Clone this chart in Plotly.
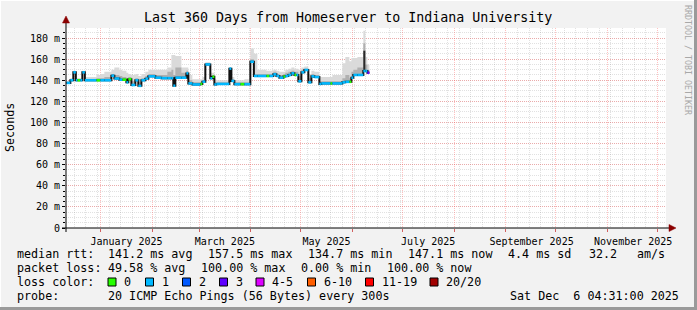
import plotly.graph_objects as go

# ---------------- data ----------------
dates = [
    "2024-12-11 10:00", "2024-12-13 19:00", "2024-12-15 14:00", "2024-12-17 02:00", "2024-12-18 00:00",
    "2024-12-19 19:00", "2024-12-21 00:00", "2024-12-22 12:00", "2024-12-29 10:00", "2024-12-31 19:00",
    "2025-01-03 05:00", "2025-01-07 10:00", "2025-01-09 05:00", "2025-01-12 05:00", "2025-01-14 00:00",
    "2025-01-16 10:00", "2025-01-17 14:00", "2025-01-19 10:00", "2025-01-21 19:00", "2025-01-23 14:00",
    "2025-01-25 10:00", "2025-01-27 19:00", "2025-01-29 14:00", "2025-02-02 19:00", "2025-02-06 10:00",
    "2025-02-10 00:00", "2025-02-12 10:00", "2025-02-13 14:00", "2025-02-14 19:00", "2025-02-18 10:00",
    "2025-02-21 10:00", "2025-02-22 14:00", "2025-02-25 00:00", "2025-03-01 19:00", "2025-03-03 00:00",
    "2025-03-04 19:00", "2025-03-07 19:00", "2025-03-09 00:00", "2025-03-10 05:00", "2025-03-11 10:00",
    "2025-03-19 05:00", "2025-03-20 10:00", "2025-03-22 05:00", "2025-03-25 19:00", "2025-03-28 05:00",
    "2025-03-31 19:00", "2025-04-02 22:00", "2025-04-05 00:00", "2025-04-10 10:00", "2025-04-12 05:00",
    "2025-04-14 14:00", "2025-04-16 10:00", "2025-04-18 05:00", "2025-04-20 14:00", "2025-04-21 19:00",
    "2025-04-23 14:00", "2025-04-25 10:00", "2025-04-27 05:00", "2025-04-28 10:00", "2025-04-29 14:00",
    "2025-05-01 10:00", "2025-05-03 05:00", "2025-05-05 14:00", "2025-05-07 10:00", "2025-05-09 05:00",
    "2025-05-12 05:00", "2025-05-13 10:00", "2025-05-18 19:00", "2025-05-20 00:00", "2025-05-26 00:00",
    "2025-05-27 19:00", "2025-05-30 05:00", "2025-05-31 10:00", "2025-06-01 14:00", "2025-06-04 00:00",
    "2025-06-07 14:00", "2025-06-08 19:00", "2025-06-10 00:00", "2025-06-11 05:00",
]

median = [
    137.5, 140.0, 147.5, 140.0, 140.0,
    140.0, 147.5, 140.0, 140.0, 140.0,
    140.0, 144.3, 141.6, 140.5, 140.5,
    138.0, 141.0, 135.5, 140.0, 134.7,
    140.0, 141.5, 143.7, 142.4, 142.0,
    142.0, 142.0, 134.8, 142.4, 142.4,
    146.5, 137.0, 136.0, 136.5, 138.6,
    155.0, 141.8, 143.3, 136.0, 136.5,
    151.0, 139.3, 136.3, 136.3, 136.3,
    157.5, 144.0, 144.0, 144.0, 144.0,
    145.6, 144.0, 142.4, 143.5, 144.0,
    145.0, 146.6, 145.0, 145.0, 139.0,
    147.5, 149.7, 138.0, 143.7, 143.0,
    136.5, 137.0, 137.0, 137.0, 138.0,
    138.5, 138.5, 142.4, 145.0, 145.0,
    148.7, 148.7, 147.1, 147.1,
]

loss = [
    1, 1, 1, 1, 0,
    1, 1, 1, 0, 1,
    1, 1, 1, 1, 0,
    1, 0, 1, 1, 1,
    1, 1, 1, 1, 1,
    1, 1, 1, 1, 1,
    1, 1, 1, 0, 1,
    1, 1, 0, 1, 1,
    1, 1, 1, 0, 1,
    1, 1, 1, 0, 1,
    1, 1, 1, 0, 1,
    1, 1, 0, 1, 1,
    1, 1, 1, 1, 1,
    1, 1, 0, 1, 1,
    1, 0, 1, 1, 1,
    1, 1, 3, 3,
]

smoke_dark = [
    137.5, 140.0, 147.5, 140.0, 140.0,
    140.0, 147.5, 140.0, 140.0, 140.0,
    140.0, 144.3, 141.6, 140.5, 140.5,
    138.0, 141.0, 135.5, 140.0, 134.7,
    140.0, 141.5, 143.7, 142.4, 142.0,
    142.0, 142.0, 134.8, 142.4, 142.4,
    146.5, 137.0, 136.0, 136.5, 138.6,
    155.0, 141.8, 143.3, 136.0, 136.5,
    151.0, 139.3, 136.3, 136.3, 136.3,
    157.5, 144.0, 144.0, 144.0, 144.0,
    145.6, 144.0, 142.4, 143.5, 144.0,
    145.0, 146.6, 145.0, 145.0, 139.0,
    147.5, 149.7, 138.0, 143.7, 143.0,
    136.5, 137.0, 137.0, 137.0, 138.0,
    138.5, 138.5, 142.4, 145.0, 145.0,
    168.0, 148.7, 147.1, 147.1,
]

smoke_mid = [
    138.5, 141, 148, 141, 141,
    141, 148, 141, 142, 142,
    143, 146, 145, 144, 143,
    142, 143, 139, 142, 138,
    142, 144, 146, 145, 145,
    148, 150, 145, 152, 147,
    149, 140, 138, 138, 140,
    156, 144, 145, 138, 138,
    151.5, 141, 138, 138, 138,
    160, 146, 146, 146, 146,
    148, 146, 145, 146, 147,
    148, 149, 148, 148, 144,
    150, 151, 142, 146, 145,
    139, 139, 139, 139, 142,
    145, 142, 148, 150, 152,
    175, 155, 150, 150,
]

smoke_light = [
    139, 142, 149, 142, 142,
    142, 149, 143, 145, 146,
    148, 150, 152, 150, 149,
    147, 146, 145, 146, 144,
    146, 148, 150, 150, 150,
    152, 164, 164, 163, 152,
    152, 145, 141, 141, 143,
    157, 147, 147, 141, 140,
    152, 143, 140, 140, 141,
    170, 165, 150, 149, 149,
    150, 149, 148, 148, 150,
    151, 152, 151, 151, 150,
    152, 153, 146, 149, 148,
    143, 143, 143, 145, 156,
    162, 158, 161, 161, 162,
    187, 162, 155, 155,
]

loss_line_colors = {0: "#26ff00", 1: "#00b8ff", 2: "#0059ff", 3: "#5e00ff"}
legend_labels = ["0", "1", "2", "3", "4-5", "6-10", "11-19", "20/20"]
legend_colors = ["#26ff00", "#00b8ff", "#0059ff", "#5e00ff", "#dd00ff", "#ff5e00", "#ff0000", "#a10000"]

y_tickvals = [0, 20, 40, 60, 80, 100, 120, 140, 160, 180]
y_ticktext = ["0", "20 m", "40 m", "60 m", "80 m", "100 m", "120 m", "140 m", "160 m", "180 m"]

title_text = "Last 360 Days from Homeserver to Indiana University"
rtt_items = ["median rtt:", "141.2 ms avg", "157.5 ms max", "134.7 ms min", "147.1 ms now",
             "4.4 ms sd", "32.2", "am/s"]
loss_items = ["packet loss:", "49.58 % avg", "100.00 % max", "0.00 % min", "100.00 % now"]
probe_text = "20 ICMP Echo Pings (56 Bytes) every 300s"
stamp_text = "Sat Dec \u00a06 04:31:00 2025"

x_range = ["2024-12-11 04:31", "2025-12-06 04:31"]

# ---------------- layout geometry (pixels) ----------------
W, H = 697, 310
PL, PR, PT, PB = 66, 666, 28, 228
FONT = "DejaVu Sans Mono"


def fx(x):
    return (x - PL) / (PR - PL)


def fy(y):
    return (PB - y) / (PB - PT)


fig = go.Figure()


def band(top, color):
    fig.add_trace(go.Scatter(x=dates, y=median, mode="lines",
                             line=dict(width=0, shape="hv"), hoverinfo="skip", showlegend=False))
    fig.add_trace(go.Scatter(x=dates, y=top, mode="lines",
                             line=dict(width=0, shape="hv"), fill="tonexty", fillcolor=color,
                             hoverinfo="skip", showlegend=False))


band(smoke_light, "#dadada")
band(smoke_mid, "#b0b0b0")
band(smoke_dark, "#2a2a2a")

# median line: black step line (verticals remain black)
fig.add_trace(go.Scatter(x=dates, y=median, mode="lines",
                         line=dict(width=2, color="#111111", shape="hv"),
                         hoverinfo="skip", showlegend=False))

# horizontal segments coloured by loss
for code, col in loss_line_colors.items():
    xs, ys = [], []
    for i in range(len(dates) - 1):
        if loss[i] == code:
            xs += [dates[i], dates[i + 1], None]
            ys += [median[i], median[i], None]
    if xs:
        fig.add_trace(go.Scatter(x=xs, y=ys, mode="lines",
                                 line=dict(width=2.6, color=col),
                                 hoverinfo="skip", showlegend=False))

# invisible trace for label axis
fig.add_trace(go.Scatter(x=[dates[0]], y=[0], xaxis="x2", mode="markers",
                         marker=dict(opacity=0), hoverinfo="skip", showlegend=False))

major_grid = "rgba(255,60,60,0.32)"
minor_grid = "rgba(120,120,120,0.22)"

fig.update_layout(
    width=W, height=H,
    margin=dict(l=PL, r=W - PR, t=PT, b=H - PB),
    paper_bgcolor="#f2f2f2", plot_bgcolor="#ffffff",
    showlegend=False,
    font=dict(family=FONT, color="#000000", size=10),
    xaxis=dict(
        type="date", range=x_range, tickmode="linear", tick0="2025-01-01", dtick="M1",
        showticklabels=False, showgrid=True, gridcolor=major_grid, griddash="1px,1px", gridwidth=1,
        ticks="outside", ticklen=3, tickcolor="#d06060", zeroline=False, showline=False,
        minor=dict(tickmode="linear", tick0="2024-12-16", dtick=7 * 86400000, showgrid=True,
                   gridcolor=minor_grid, griddash="1px,1px", ticks=""),
        fixedrange=True,
    ),
    xaxis2=dict(
        type="date", range=x_range, overlaying="x", anchor="y", side="bottom",
        tickmode="linear", tick0="2025-01-16 12:00", dtick="M2", tickformat="%B %Y",
        showgrid=False, ticks="outside", ticklen=4, tickcolor="rgba(0,0,0,0)",
        zeroline=False, showline=False,
        tickfont=dict(family=FONT, size=10, color="#000000"),
    ),
    yaxis=dict(
        range=[0, 189.5], tickmode="array", tickvals=y_tickvals, ticktext=y_ticktext,
        showgrid=True, gridcolor=major_grid, griddash="1px,1px", gridwidth=1,
        ticks="outside", ticklen=3, tickcolor="#000000", zeroline=False, showline=False,
        tickfont=dict(family=FONT, size=10, color="#000000"),
        minor=dict(tickmode="linear", tick0=0, dtick=5, showgrid=True, gridcolor=minor_grid,
                   griddash="1px,1px", ticks="outside", ticklen=2, tickcolor="#000000"),
        fixedrange=True,
    ),
)

shapes = []
# frame around the image
shapes.append(dict(type="line", xref="paper", yref="paper", x0=fx(0), x1=fx(W), y0=fy(0.5), y1=fy(0.5),
                   line=dict(color="#ffffff", width=1)))
shapes.append(dict(type="line", xref="paper", yref="paper", x0=fx(0.5), x1=fx(0.5), y0=fy(0), y1=fy(H),
                   line=dict(color="#ffffff", width=1)))
shapes.append(dict(type="line", xref="paper", yref="paper", x0=fx(0), x1=fx(W), y0=fy(H - 1.5), y1=fy(H - 1.5),
                   line=dict(color="#9a9a9a", width=3)))
shapes.append(dict(type="line", xref="paper", yref="paper", x0=fx(W - 1.5), x1=fx(W - 1.5), y0=fy(0), y1=fy(H),
                   line=dict(color="#9a9a9a", width=3)))
# axes with arrows
shapes.append(dict(type="line", xref="paper", yref="paper", x0=fx(66), x1=fx(66), y0=fy(232), y1=fy(20),
                   line=dict(color="#000000", width=1)))
shapes.append(dict(type="line", xref="paper", yref="paper", x0=fx(62), x1=fx(670), y0=fy(228), y1=fy(228),
                   line=dict(color="#000000", width=1)))
shapes.append(dict(type="path", xref="paper", yref="paper",
                   path=f"M {fx(62.5)},{fy(23)} L {fx(69.5)},{fy(23)} L {fx(66)},{fy(16)} Z",
                   fillcolor="#8b0000", line=dict(color="#8b0000", width=0.5)))
shapes.append(dict(type="path", xref="paper", yref="paper",
                   path=f"M {fx(669)},{fy(224.5)} L {fx(669)},{fy(231.5)} L {fx(676)},{fy(228)} Z",
                   fillcolor="#8b0000", line=dict(color="#8b0000", width=0.5)))

annotations = []


def text(x, y, s, size=11.7, anchor="left", angle=0, color="#000000"):
    annotations.append(dict(xref="paper", yref="paper", x=fx(x), y=fy(y), text=s, showarrow=False,
                            xanchor=anchor, yanchor="middle", textangle=angle, borderpad=0,
                            font=dict(family=FONT, size=size, color=color)))


text(347.5, 18, title_text, size=13.3, anchor="center")
text(688, 60, "RRDTOOL / TOBI OETIKER", size=8.3, anchor="center", angle=90, color="#a8a8a8")
text(10, 128, "Seconds", size=11.7, anchor="center", angle=-90)

rtt_x = [16, 107, 207, 307, 407, 507, 588, 636]
for xx, s in zip(rtt_x, rtt_items):
    text(xx, 254, s)
loss_x = [16, 107, 200, 300, 386]
for xx, s in zip(loss_x, loss_items):
    text(xx, 268, s)
text(16, 282, "loss color:")
sw_x = [108, 145.5, 182.5, 219.5, 256, 307.5, 365.5, 430]
for xx, lab, col in zip(sw_x, legend_labels, legend_colors):
    shapes.append(dict(type="rect", xref="paper", yref="paper", x0=fx(xx), x1=fx(xx + 8), y0=fy(286), y1=fy(278),
                       fillcolor=col, line=dict(color="#000000", width=1)))
    text(xx + 15, 282, lab)
text(16, 296, "probe:")
text(107, 296, probe_text)
text(680, 296, stamp_text, anchor="right")

fig.update_layout(shapes=shapes, annotations=annotations)

fig.write_html("out.html")
